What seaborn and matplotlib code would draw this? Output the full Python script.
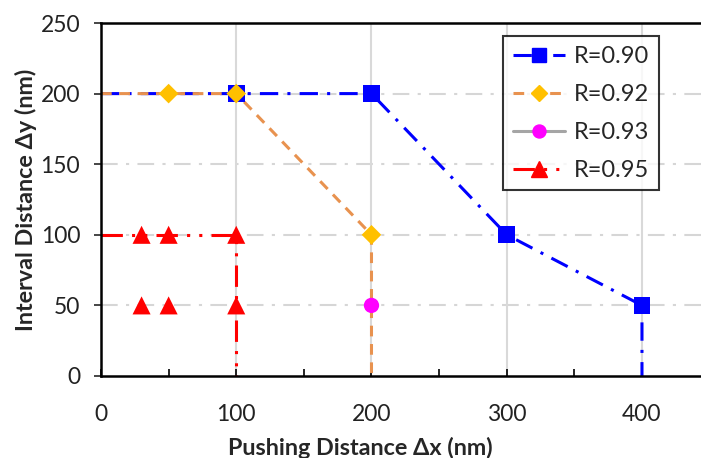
import numpy as np
import pandas as pd
import matplotlib
matplotlib.use("Agg")
import matplotlib.pyplot as plt
from matplotlib.lines import Line2D
import seaborn as sns

# ── data ─────────────────────────────────────────────────────────────────────
labels = ["R=0.90", "R=0.92", "R=0.93", "R=0.95"]

# line paths (x, y) per series
x_090 = [0, 100, 200, 300, 400, 400]
y_090 = [200, 200, 200, 100, 50, 0]
x_092 = [0, 50, 100, 200, 200]
y_092 = [200, 200, 200, 100, 0]
x_093 = [200]
y_093 = [50]
x_095 = [0, 30, 50, 100, 100, 100]
y_095 = [100, 100, 100, 100, 50, 0]

# marked points per series
mx_090 = [100, 200, 300, 400]
my_090 = [200, 200, 100, 50]
mx_092 = [50, 100, 200]
my_092 = [200, 200, 100]
mx_093 = [200]
my_093 = [50]
mx_095 = [30, 50, 100, 30, 50, 100]
my_095 = [100, 100, 100, 50, 50, 50]

x_ticks = [0, 100, 200, 300, 400]
y_ticks = [0, 50, 100, 150, 200, 250]

# ── style ────────────────────────────────────────────────────────────────────
sns.set_style("white")
plt.rcParams["font.family"] = ["Lato", "DejaVu Sans"]

styles = {
    "R=0.90": dict(color="#0000FF", ls=(0, (6, 3, 1, 3)), marker="s", mc="#0000FF", ms=12),
    "R=0.92": dict(color="#E8924F", ls=(0, (3.5, 2.5)), marker="D", mc="#FFC000", ms=10),
    "R=0.93": dict(color="#A5A5A5", ls="-", marker="o", mc="#FF00FF", ms=11),
    "R=0.95": dict(color="#FF0000", ls=(0, (7, 3, 1, 3, 1, 3)), marker="^", mc="#FF0000", ms=13),
}

fig = plt.figure(figsize=(7.01, 4.58), dpi=100)
ax = fig.add_axes([101 / 701, 82 / 458, 608.6 / 701, 353 / 458])

# gridlines
for yv in [50, 100, 150, 200]:
    ax.axhline(yv, color="#D6D6D6", lw=1.5, ls=(0, (8, 4, 1.5, 4)), zorder=0)
for xv in [100, 200, 300, 400]:
    ax.axvline(xv, color="#D9D9D9", lw=1.5, zorder=0)

lines = {"R=0.90": (x_090, y_090), "R=0.92": (x_092, y_092),
         "R=0.93": (x_093, y_093), "R=0.95": (x_095, y_095)}
marks = {"R=0.90": (mx_090, my_090), "R=0.92": (mx_092, my_092),
         "R=0.93": (mx_093, my_093), "R=0.95": (mx_095, my_095)}

for lab in labels:
    st = styles[lab]
    lx, ly = lines[lab]
    if len(lx) > 1:
        df = pd.DataFrame({"x": lx, "y": ly})
        sns.lineplot(data=df, x="x", y="y", sort=False, estimator=None,
                     color=st["color"], lw=2.2, ax=ax, zorder=2)
        ax.lines[-1].set_linestyle(st["ls"])
    mx, my = marks[lab]
    sns.scatterplot(x=mx, y=my, marker=st["marker"], color=st["mc"],
                    s=st["ms"] ** 2, edgecolor="none", ax=ax, zorder=3)

ax.set_xlim(0, 450)
ax.set_ylim(0, 250)
ax.set_xticks(x_ticks)
ax.set_xticks([50, 150, 250, 350, 450], minor=True)
ax.set_yticks(y_ticks)
ax.tick_params(axis="x", which="both", direction="in", length=5, width=1.2,
               labelsize=16.5, pad=20, colors="black")
ax.tick_params(axis="y", direction="out", length=5, width=1.2,
               labelsize=16.5, pad=10)
ax.tick_params(axis="y", which="major", left=True)
ax.tick_params(axis="x", which="both", bottom=True)
for lbl in ax.get_xticklabels() + ax.get_yticklabels():
    lbl.set_color("#222222")

for side in ["left", "bottom", "top", "right"]:
    ax.spines[side].set_color("black")
    ax.spines[side].set_linewidth(1.8)

ax.set_xlabel("Pushing Distance Δx (nm)", fontsize=16.8, fontweight="bold")
ax.set_ylabel("Interval Distance Δy (nm)", fontsize=16.8, fontweight="bold")
ax.xaxis.set_label_coords((360 - 101) / 608.6, -0.172)
ax.yaxis.set_label_coords(-0.105, 0.5)

handles = []
for lab in labels:
    st = styles[lab]
    handles.append(Line2D([0], [0], color=st["color"], ls=st["ls"], lw=2.2,
                          marker=st["marker"], markerfacecolor=st["mc"],
                          markeredgecolor=st["mc"], markersize=st["ms"] * 0.85))
leg = ax.legend(handles, labels, loc="upper left", bbox_to_anchor=(0.661, 0.962),
                fontsize=17, frameon=True, fancybox=False, handlelength=2.2,
                borderpad=0.4, labelspacing=0.72, handletextpad=0.4,
                borderaxespad=0)
leg.get_frame().set_edgecolor("black")
leg.get_frame().set_linewidth(1.5)

fig.savefig("out.png", dpi=100)
